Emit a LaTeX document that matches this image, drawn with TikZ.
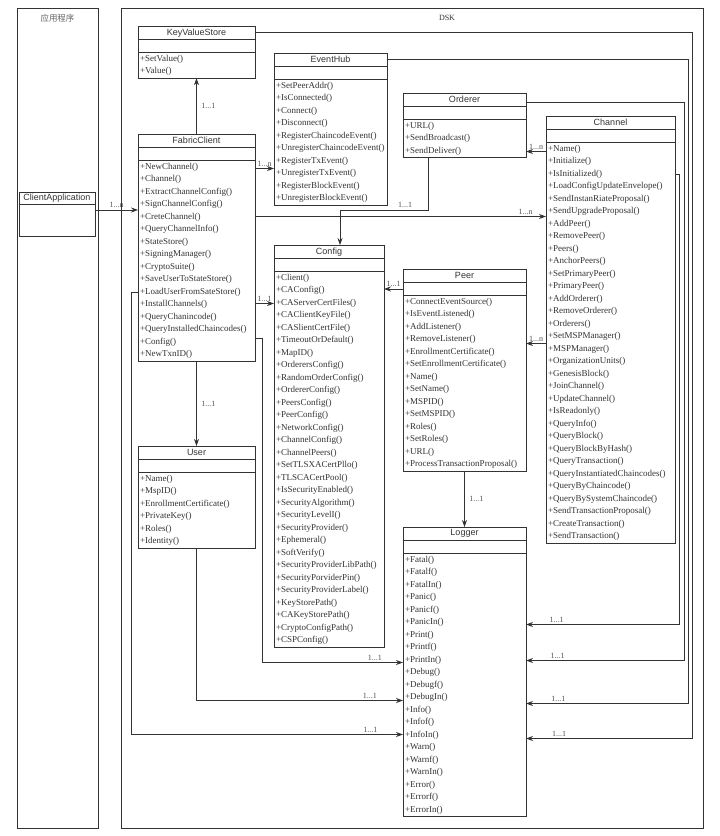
\documentclass[tikz,border=0pt]{standalone}
\usepackage{fontspec}
\setmainfont{Liberation Serif}
\newfontfamily\titlefont{Liberation Sans}
\newfontfamily\cjk{Noto Sans CJK SC}
\usetikzlibrary{positioning,arrows.meta}
\definecolor{ink}{HTML}{333333}

\newcommand{\umlclass}[6]{%
  \pgfmathsetmacro\clsw{#4-4}%
  \node[ctitle, minimum width=#4pt] (#1-t) at (#2,#3) {#5};
  \node[cattr, minimum width=#4pt, below=0pt of #1-t] (#1-a) {};
  \node[cbody, minimum width=#4pt, text width=\clsw pt, below=0pt of #1-a] (#1-m) {#6};
}

\begin{document}
\begin{tikzpicture}[
  x=1pt, y=-1pt,
  ctitle/.style={draw=ink, line width=0.8pt, outer sep=0pt, font=\titlefont\fontsize{9}{10}\selectfont, text=ink, minimum height=13.5pt, inner sep=0pt, anchor=north west},
  cattr/.style={draw=ink, line width=0.8pt, outer sep=0pt, minimum height=13pt, inner sep=0pt},
  cbody/.style={draw=ink, line width=0.8pt, outer sep=0pt, font=\fontsize{9}{12.5}\selectfont, text=ink, align=left, inner xsep=2pt, inner ysep=2.5pt},
  frame/.style={draw=ink, line width=0.8pt, outer sep=0pt, anchor=north west, inner sep=0pt},
  arr/.style={-{Stealth[length=7pt,width=5pt]}, line width=0.8pt, draw=ink},
  lbl/.style={font=\fontsize{8}{9}\selectfont, text=ink!85, inner sep=1.5pt}
]
  \useasboundingbox[fill=white] (0,0) rectangle (720,836);

  \node[frame, minimum width=81pt, minimum height=820pt] (app) at (17,8) {};
  \node[frame, minimum width=582pt, minimum height=820pt] (dsk) at (121,8) {};
  \node[font=\cjk\fontsize{8.5}{10}\selectfont, text=ink!75] (applbl) at ([yshift=-10pt]app.north) {应用程序};
  \node[font=\fontsize{8}{9}\selectfont, text=ink] (dsklbl) at (447,18) {DSK};

  \node[ctitle, minimum width=76pt, minimum height=12pt] (ca-t) at (19,192) {ClientApplication};
  \node[cattr, minimum width=76pt, minimum height=32pt, below=0pt of ca-t] (ca-b) {};

  \umlclass{kvs}{138}{26}{117}{KeyValueStore}{+SetValue()\\+Value()}
  \umlclass{eh}{274}{53}{113}{EventHub}{+SetPeerAddr()\\+IsConnected()\\+Connect()\\+Disconnect()\\+RegisterChaincodeEvent()\\+UnregisterChaincodeEvent()\\+RegisterTxEvent()\\+UnregisterTxEvent()\\+RegisterBlockEvent()\\+UnregisterBlockEvent()}
  \umlclass{fc}{138}{134}{117}{FabricClient}{+NewChannel()\\+Channel()\\+ExtractChannelConfig()\\+SignChannelConfig()\\+CreteChannel()\\+QueryChannelInfo()\\+StateStore()\\+SigningManager()\\+CryptoSuite()\\+SaveUserToStateStore()\\+LoadUserFromSateStore()\\+InstallChannels()\\+QueryChanincode()\\+QueryInstalledChaincodes()\\+Config()\\+NewTxnID()}
  \umlclass{ord}{403}{93}{123}{Orderer}{+URL()\\+SendBroadcast()\\+SendDeliver()}
  \umlclass{ch}{546}{116}{129}{Channel}{+Name()\\+Initialize()\\+IsInitialized()\\+LoadConfigUpdateEnvelope()\\+SendInstanRiateProposal()\\+SendUpgradeProposal()\\+AddPeer()\\+RemovePeer()\\+Peers()\\+AnchorPeers()\\+SetPrimaryPeer()\\+PrimaryPeer()\\+AddOrderer()\\+RemoveOrderer()\\+Orderers()\\+SetMSPManager()\\+MSPManager()\\+OrganizationUnits()\\+GenesisBlock()\\+JoinChannel()\\+UpdateChannel()\\+IsReadonly()\\+QueryInfo()\\+QueryBlock()\\+QueryBlockByHash()\\+QueryTransaction()\\+QueryInstantiatedChaincodes()\\+QueryByChaincode()\\+QueryBySystemChaincode()\\+SendTransactionProposal()\\+CreateTransaction()\\+SendTransaction()}
  \umlclass{cfg}{274}{245}{110}{Config}{+Client()\\+CAConfig()\\+CAServerCertFiles()\\+CAClientKeyFile()\\+CASlientCertFile()\\+TimeoutOrDefault()\\+MapID()\\+OrderersConfig()\\+RandomOrderConfig()\\+OrdererConfig()\\+PeersConfig()\\+PeerConfig()\\+NetworkConfig()\\+ChannelConfig()\\+ChannelPeers()\\+SetTLSXACertPllo()\\+TLSCACertPool()\\+IsSecurityEnabled()\\+SecurityAlgorithm()\\+SecurityLevelI()\\+SecurityProvider()\\+Ephemeral()\\+SoftVerify()\\+SecurityProviderLibPath()\\+SecurityPorviderPin()\\+SecurityProviderLabel()\\+KeyStorePath()\\+CAKeyStorePath()\\+CryptoConfigPath()\\+CSPConfig()}
  \umlclass{peer}{403}{269}{123}{Peer}{+ConnectEventSource()\\+IsEventListened()\\+AddListener()\\+RemoveListener()\\+EnrollmentCertificate()\\+SetEnrollmentCertificate()\\+Name()\\+SetName()\\+MSPID()\\+SetMSPID()\\+Roles()\\+SetRoles()\\+URL()\\+ProcessTransactionProposal()}
  \umlclass{user}{138}{446}{117}{User}{+Name()\\+MspID()\\+EnrollmentCertificate()\\+PrivateKey()\\+Roles()\\+Identity()}
  \umlclass{log}{403}{527}{123}{Logger}{+Fatal()\\+Fatalf()\\+FatalIn()\\+Panic()\\+Panicf()\\+PanicIn()\\+Print()\\+Printf()\\+PrintIn()\\+Debug()\\+Debugf()\\+DebugIn()\\+Info()\\+Infof()\\+InfoIn()\\+Warn()\\+Warnf()\\+WarnIn()\\+Error()\\+Errorf()\\+ErrorIn()}

  \coordinate (lgR1) at ([yshift=-71pt]log-m.north east);
  \coordinate (lgR2) at ([yshift=-107pt]log-m.north east);
  \coordinate (lgR3) at ([yshift=-150pt]log-m.north east);
  \coordinate (lgR4) at ([yshift=-185pt]log-m.north east);
  \coordinate (lgL1) at ([yshift=-109pt]log-m.north west);
  \coordinate (lgL2) at ([yshift=-147pt]log-m.north west);
  \coordinate (lgL3) at ([yshift=-181pt]log-m.north west);
  \coordinate (busC) at ([xshift=-24pt]dsk.east);
  \coordinate (busO) at ([xshift=-19pt]dsk.east);
  \coordinate (busE) at ([xshift=-15pt]dsk.east);
  \coordinate (busK) at ([xshift=-11pt]dsk.east);

  \draw[arr] ([yshift=-6pt]ca-b.north east) coordinate (c1) -- node[lbl, above]{1...n} (c1 -| fc-m.west);
  \draw[arr] (fc-t.north) -- node[lbl, right, xshift=3pt]{1...1} (kvs-m.south);
  \draw[arr] ([yshift=-8pt]fc-m.north east) coordinate (c2) -- node[lbl, above]{1...n} (c2 -| eh-m.west);
  \draw[arr] ([yshift=-56pt]fc-m.north east) coordinate (c3) -- node[lbl, above, pos=0.93]{1...n} (c3 -| ch-m.west);
  \draw[arr] ([yshift=-143pt]fc-m.north east) coordinate (c4) -- node[lbl, above]{1...1} (c4 -| cfg-m.west);
  \draw[arr] ([xshift=25pt]ord-m.south west) |- node[lbl, above, pos=0.63]{1...1} ([xshift=66pt, yshift=35pt]cfg-t.north west) -- ([xshift=66pt]cfg-t.north west);
  \draw[arr] ([yshift=-9pt]ch-m.north west) coordinate (c5) -- node[lbl, above]{1...n} (c5 -| ord-m.east);
  \draw[arr] ([yshift=-201pt]ch-m.north west) coordinate (c6) -- node[lbl, above]{1...n} (c6 -| peer-m.east);
  \draw[arr] (peer-a.west) -- node[lbl, above]{1...1} (peer-a.west -| cfg-m.east);
  \draw[arr] (peer-m.south) -- node[lbl, right, xshift=3pt]{1...1} (log-t.north);
  \draw[arr] (fc-m.south) -- node[lbl, right, xshift=3pt]{1...1} (user-t.north);
  \draw[arr] ([yshift=-178pt]fc-m.north east) -- ++(7,0) |- node[lbl, above, pos=0.9]{1...1} (lgL1);
  \draw[arr] (user-m.south) |- node[lbl, above, pos=0.92]{1...1} (lgL2);
  \draw[arr] ([yshift=-132pt]fc-m.north west) -- ++(-7,0) |- node[lbl, above, pos=0.94]{1...1} (lgL3);
  \draw[arr] ([yshift=-32pt]ch-m.north east) -| (busC |- lgR1) -- node[lbl, above, pos=0.8]{1...1} (lgR1);
  \draw[arr] ([yshift=-3pt]ord-t.east) -| (busO |- lgR2) -- node[lbl, above, pos=0.8]{1...1} (lgR2);
  \draw[arr] (eh-t.east) -| (busE |- lgR3) -- node[lbl, above, pos=0.8]{1...1} (lgR3);
  \draw[arr] (kvs-t.east) -| (busK |- lgR4) -- node[lbl, above, pos=0.8]{1...1} (lgR4);
\end{tikzpicture}
\end{document}
